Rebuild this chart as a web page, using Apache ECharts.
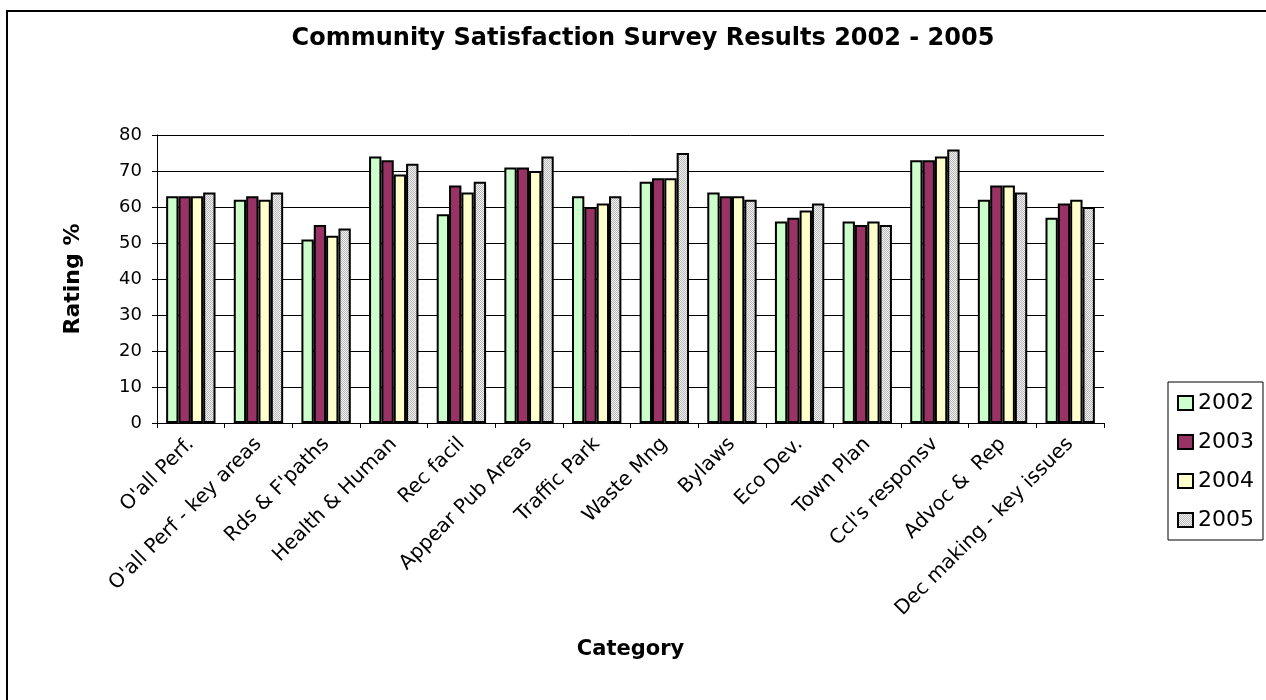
<!DOCTYPE html>
<html>
<head>
<meta charset="utf-8">
<script src="https://cdn.jsdelivr.net/npm/echarts@6/dist/echarts.min.js"></script>
<style>
html,body{margin:0;padding:0;background:#fff;}
#chart{width:1266px;height:700px;}
</style>
</head>
<body>
<div id="chart"></div>
<script>
var categories = ["O'all Perf.", "O'all Perf - key areas", "Rds & F'paths", "Health & Human", "Rec facil", "Appear Pub Areas", "Traffic Park", "Waste Mng", "Bylaws", "Eco Dev.", "Town Plan", "Ccl's responsv", "Advoc &  Rep", "Dec making - key issues"];
var seriesNames = ["2002", "2003", "2004", "2005"];
var values2002 = [63, 62, 51, 74, 58, 71, 63, 67, 64, 56, 56, 73, 62, 57];
var values2003 = [63, 63, 55, 73, 66, 71, 60, 68, 63, 57, 55, 73, 66, 61];
var values2004 = [63, 62, 52, 69, 64, 70, 61, 68, 63, 59, 56, 74, 66, 62];
var values2005 = [64, 64, 54, 72, 67, 74, 63, 75, 62, 61, 55, 76, 64, 60];
var yTicks = [0, 10, 20, 30, 40, 50, 60, 70, 80];

// dotted grey pattern for 2005
var pc = document.createElement('canvas');
pc.width = 2; pc.height = 2;
var pctx = pc.getContext('2d');
pctx.fillStyle = '#f2f2f2'; pctx.fillRect(0, 0, 2, 2);
pctx.fillStyle = '#b8b8b8'; pctx.fillRect(0, 0, 1, 1); pctx.fillRect(1, 1, 1, 1);
var greyPattern = { image: pc, repeat: 'repeat' };

var fills = ['#CCFFCC', '#993366', '#FFFFCC', greyPattern];
var allValues = [values2002, values2003, values2004, values2005];

var chart = echarts.init(document.getElementById('chart'), null, { renderer: 'canvas' });

var series = seriesNames.map(function (name, i) {
  return {
    name: name,
    type: 'bar',
    data: allValues[i],
    barGap: '0%',
    barCategoryGap: '27%',
    itemStyle: { color: fills[i], borderColor: '#000', borderWidth: 2 },
    emphasis: { disabled: true }
  };
});

chart.setOption({
  animation: false,
  backgroundColor: '#fff',
  title: {
    text: 'Community Satisfaction Survey Results 2002 - 2005',
    left: 643,
    textAlign: 'center',
    top: 27,
    padding: 0,
    textStyle: { fontFamily: 'DejaVu Sans', fontWeight: 'bold', fontSize: 24, color: '#000' }
  },
  graphic: [{
    type: 'polyline',
    shape: { points: [[7, 720], [7, 11], [1290, 11]] },
    style: { fill: 'none', stroke: '#000', lineWidth: 2 },
    silent: true,
    z: -1
  }],
  legend: {
    orient: 'vertical',
    left: 1168,
    top: 382,
    padding: [10, 9, 9, 9],
    itemGap: 17,
    itemWidth: 15,
    itemHeight: 14,
    icon: 'rect',
    backgroundColor: '#fff',
    borderColor: '#000',
    borderWidth: 1,
    borderRadius: 0,
    data: seriesNames,
    itemStyle: { borderColor: '#000', borderWidth: 2 },
    textStyle: { fontFamily: 'DejaVu Sans', fontSize: 22, lineHeight: 22, color: '#000', padding: [0, 0, 0, 0] }
  },
  grid: { left: 157, right: 162, top: 135, bottom: 277, containLabel: false },
  xAxis: {
    type: 'category',
    data: categories,
    name: 'Category',
    nameLocation: 'middle',
    nameGap: 216,
    nameTextStyle: { fontFamily: 'DejaVu Sans', fontWeight: 'bold', fontSize: 21, color: '#000', verticalAlign: 'top' },
    axisLine: { show: true, lineStyle: { color: '#000', width: 1 } },
    axisTick: { show: true, alignWithLabel: false, length: 5, lineStyle: { color: '#000' } },
    axisLabel: {
      interval: 0,
      rotate: 45,
      margin: 18,
      fontFamily: 'DejaVu Sans',
      fontSize: 20,
      color: '#000'
    },
    splitLine: { show: false }
  },
  yAxis: {
    type: 'value',
    min: yTicks[0],
    max: yTicks[yTicks.length - 1],
    interval: 10,
    name: 'Rating %',
    nameLocation: 'middle',
    nameRotate: 90,
    nameGap: 73,
    nameTextStyle: { fontFamily: 'DejaVu Sans', fontWeight: 'bold', fontSize: 22, color: '#000' },
    axisLine: { show: true, lineStyle: { color: '#000', width: 1 } },
    axisTick: { show: true, inside: false, length: 5, lineStyle: { color: '#000' } },
    axisLabel: { margin: 15, fontFamily: 'DejaVu Sans', fontSize: 18, color: '#000' },
    splitLine: { show: true, lineStyle: { color: '#000', width: 1, type: 'solid' } }
  },
  series: series
});
</script>
</body>
</html>
